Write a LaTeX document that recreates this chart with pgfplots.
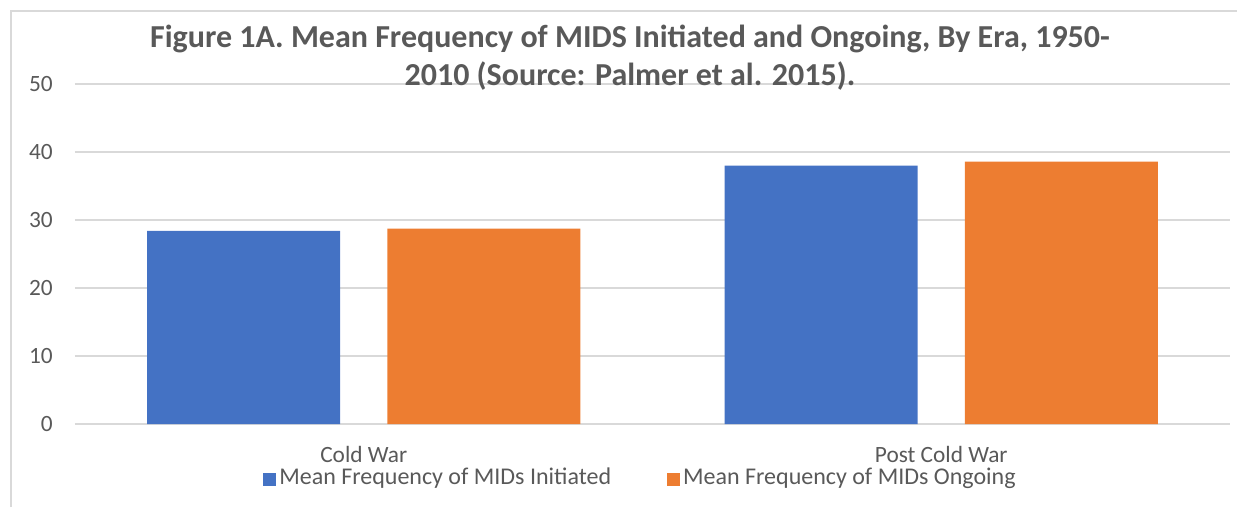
\documentclass[border=0pt]{standalone}
\usepackage{fontspec}
\setmainfont{Carlito}
\usepackage{pgfplots}
\pgfplotsset{compat=1.18}
\definecolor{cblue}{HTML}{4472C4}
\definecolor{corange}{HTML}{ED7D31}
\definecolor{cgrid}{HTML}{D9D9D9}
\definecolor{ctext}{HTML}{595959}
\begin{document}
\begin{tikzpicture}
\begin{axis}[
  scale only axis,
  width=866.25pt, height=255pt,
  at={(0,0)}, anchor=south west,
  clip=false,
  xmin=-0.5, xmax=1.5,
  ymin=0, ymax=50,
  ytick={0,10,20,30,40,50},
  xtick={0,1},
  xticklabels={Cold War,Post Cold War},
  axis line style={draw=none},
  major tick length=0pt,
  ymajorgrids,
  grid style={cgrid, line width=1pt},
  /pgf/number format/assume math mode=true,
  tick label style={font=\fontsize{17.5}{20}\selectfont, text=ctext},
  yticklabel style={anchor=east, inner sep=0pt, xshift=-16.5pt},
  xticklabel style={anchor=base, inner sep=0pt, text depth=0pt, yshift=-28.5pt},
  ybar,
  bar width=0.334,
  legend columns=2,
  legend style={at={(0.49,-0.164)}, anchor=center, draw=none, fill=none,
    font=\fontsize{18}{20}\selectfont, text=ctext,
    /tikz/every even column/.append style={column sep=39pt},
    nodes={inner xsep=2.6pt, inner ysep=0pt, text height=1.5ex}},
  legend image code/.code={\fill[#1,draw=none] (0pt,-3.5pt) rectangle (9.75pt,6.25pt);},
]
\addplot[fill=cblue, draw=none, bar shift=-0.208] coordinates {(0,28.4) (1,38.0)};
\addlegendentry{Mean Frequency of MIDs Initiated}
\addplot[fill=corange, draw=none, bar shift=0.208] coordinates {(0,28.75) (1,38.6)};
\addlegendentry{Mean Frequency of MIDs Ongoing}
\node[anchor=base, font=\fontsize{24}{29}\bfseries, text=ctext] at ([yshift=27.75pt]rel axis cs:0.4805,1) {Figure 1A. Mean Frequency of MIDS Initiated and Ongoing, By Era, 1950-};
\node[anchor=base, font=\fontsize{24}{29}\bfseries, text=ctext] at ([yshift=-1pt]rel axis cs:0.4805,1) {2010 (Source: Palmer et al. 2015).};
\end{axis}
\draw[cgrid, line width=1pt] (-48pt,-62.25pt) -- (-48pt,309.75pt) -- (871.5pt,309.75pt);
\pgfresetboundingbox
\path[use as bounding box] (-56.25pt,-62.25pt) rectangle (879.75pt,318pt);
\end{tikzpicture}
\end{document}
